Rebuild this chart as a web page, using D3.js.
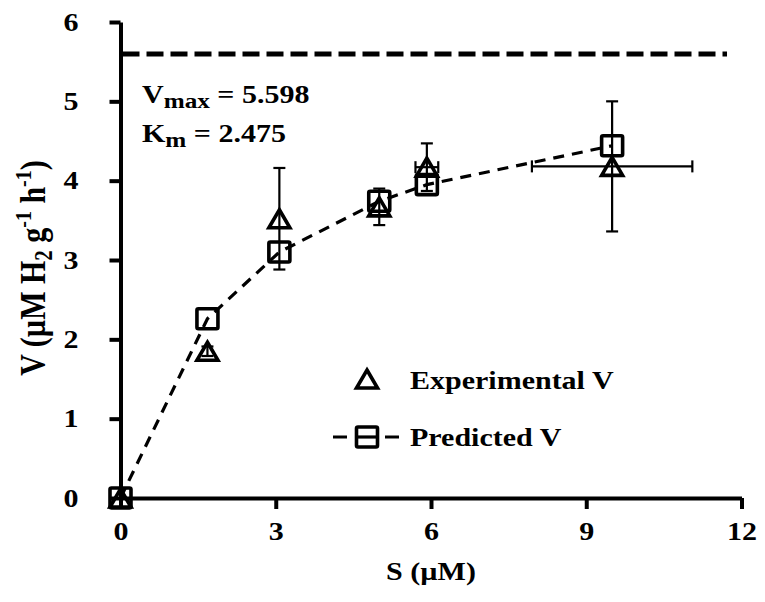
<!DOCTYPE html>
<html>
<head>
<meta charset="utf-8">
<script src="https://cdn.jsdelivr.net/npm/d3@7"></script>
<style>
  html, body { margin: 0; padding: 0; background: #fff; }
  svg text { font-family: "Liberation Serif", "Times New Roman", serif; font-weight: bold; fill: #000; }
</style>
</head>
<body>
<svg id="chart" width="765" height="602"></svg>
<script>
// Substrate concentration S (µM) and reaction rates V (µM H2 g-1 h-1)
const substrate = [0, 1.68, 3.07, 5.0, 5.92, 9.5];
const substrateErr = [0, 0, 0, 0, 0.22, 1.55];
const experimentalV = [0, 1.85, 3.52, 3.67, 4.17, 4.18];
const experimentalErr = [0, 0.06, 0.64, 0.23, 0.30, 0.82];
const predictedV = [0, 2.26, 3.10, 3.74, 3.95, 4.44];
const vmax = 5.598;
const km = 2.475;
const xTicks = [0, 3, 6, 9, 12];
const yTicks = [0, 1, 2, 3, 4, 5, 6];
const vmaxLineEnd = 11.72;

const svg = d3.select("#chart");
const plotLeft = 120.5, plotRight = 741.5, plotTop = 22, plotBottom = 498;
const WIDE = 1.2;   // horizontal widening of the lettering
const FONT = 25;

const x = d3.scaleLinear().domain([0, 12]).range([plotLeft, plotRight]);
const y = d3.scaleLinear().domain([0, 6]).range([plotBottom, plotTop]);

// Text placed at (px, py) and widened horizontally
function label(px, py, size, anchor) {
  return svg.append("text")
    .attr("transform", `translate(${px},${py}) scale(${WIDE},1)`)
    .attr("text-anchor", anchor || "start")
    .attr("font-size", size);
}

// Axes
const xAxis = svg.append("g")
  .attr("transform", `translate(0,${plotBottom})`)
  .call(d3.axisBottom(x).tickValues(xTicks).tickFormat(d3.format("d"))
    .tickSize(11).tickSizeOuter(0).tickPadding(13));
const yAxis = svg.append("g")
  .attr("transform", `translate(${plotLeft},0)`)
  .call(d3.axisLeft(y).tickValues(yTicks).tickFormat(d3.format("d"))
    .tickSize(11).tickSizeOuter(0).tickPadding(31));

[xAxis, yAxis].forEach(g => {
  g.select(".domain").attr("stroke", "#000").attr("stroke-width", 4);
  g.selectAll(".tick line").attr("stroke", "#000").attr("stroke-width", 4);
  g.selectAll(".tick text")
    .attr("font-size", FONT)
    .attr("font-family", "Liberation Serif, Times New Roman, serif")
    .attr("font-weight", "bold")
    .attr("fill", "#000")
    .attr("transform", `scale(${WIDE},1)`);
});
yAxis.selectAll(".tick text").attr("x", -42 / WIDE);

// Axis titles
label((plotLeft + plotRight) / 2, 580, FONT, "middle").text("S (µM)");

const yTitle = svg.append("text")
  .attr("transform", `translate(45,268) rotate(-90) scale(1,${WIDE})`)
  .attr("text-anchor", "middle")
  .attr("font-size", 30);
yTitle.append("tspan").text("V (µM H");
yTitle.append("tspan").attr("font-size", 21).attr("dy", 6).text("2");
yTitle.append("tspan").attr("dy", -6).text(" g");
yTitle.append("tspan").attr("font-size", 20).attr("dy", -12).text("-1");
yTitle.append("tspan").attr("dy", 12).text(" h");
yTitle.append("tspan").attr("font-size", 20).attr("dy", -12).text("-1");
yTitle.append("tspan").attr("dy", 12).text(")");

// Vmax asymptote
svg.append("line")
  .attr("x1", x(0) + 2).attr("x2", x(vmaxLineEnd))
  .attr("y1", y(vmax)).attr("y2", y(vmax))
  .attr("stroke", "#000").attr("stroke-width", 5)
  .attr("stroke-dasharray", "17,7");

// Kinetic parameters
const vLabel = label(142, 103, FONT);
vLabel.append("tspan").text("V");
vLabel.append("tspan").attr("font-size", 21).attr("dy", 5).text("max");
vLabel.append("tspan").attr("dy", -5).text(" = " + vmax.toFixed(3));
const kLabel = label(142, 142, FONT);
kLabel.append("tspan").text("K");
kLabel.append("tspan").attr("font-size", 21).attr("dy", 5).text("m");
kLabel.append("tspan").attr("dy", -5).text(" = " + km.toFixed(3));

const rows = substrate.map((s, i) => ({
  s, sErr: substrateErr[i], v: experimentalV[i], vErr: experimentalErr[i], p: predictedV[i]
}));

// Error bars on the experimental rates
const cap = 6;
const eb = svg.append("g").attr("stroke", "#000").attr("stroke-width", 2.2).attr("fill", "none");
rows.filter(d => d.vErr > 0).forEach(d => {
  eb.append("line").attr("x1", x(d.s)).attr("x2", x(d.s)).attr("y1", y(d.v - d.vErr)).attr("y2", y(d.v + d.vErr));
  eb.append("line").attr("x1", x(d.s) - cap).attr("x2", x(d.s) + cap).attr("y1", y(d.v + d.vErr)).attr("y2", y(d.v + d.vErr));
  eb.append("line").attr("x1", x(d.s) - cap).attr("x2", x(d.s) + cap).attr("y1", y(d.v - d.vErr)).attr("y2", y(d.v - d.vErr));
});
rows.filter(d => d.sErr > 0).forEach(d => {
  eb.append("line").attr("x1", x(d.s - d.sErr)).attr("x2", x(d.s + d.sErr)).attr("y1", y(d.v)).attr("y2", y(d.v));
  eb.append("line").attr("x1", x(d.s - d.sErr)).attr("x2", x(d.s - d.sErr)).attr("y1", y(d.v) - cap).attr("y2", y(d.v) + cap);
  eb.append("line").attr("x1", x(d.s + d.sErr)).attr("x2", x(d.s + d.sErr)).attr("y1", y(d.v) - cap).attr("y2", y(d.v) + cap);
});

// Predicted curve
svg.append("path")
  .datum(rows)
  .attr("d", d3.line().x(d => x(d.s)).y(d => y(d.p)))
  .attr("fill", "none").attr("stroke", "#000").attr("stroke-width", 3.2)
  .attr("stroke-dasharray", "11,8");

// Marker shapes
const triW = 21, triH = 18, sqW = 21, sqH = 20;
const triPath = `M0,${-triH / 2}L${triW / 2},${triH / 2}L${-triW / 2},${triH / 2}Z`;

svg.append("g").selectAll("rect").data(rows).join("rect")
  .attr("x", d => x(d.s) - sqW / 2).attr("y", d => y(d.p) - sqH / 2)
  .attr("width", sqW).attr("height", sqH).attr("rx", 1.5)
  .attr("fill", "none").attr("stroke", "#000").attr("stroke-width", 3.6);

svg.append("g").selectAll("path").data(rows).join("path")
  .attr("d", triPath)
  .attr("transform", d => `translate(${x(d.s)},${y(d.v)})`)
  .attr("fill", "none").attr("stroke", "#000").attr("stroke-width", 3.6)
  .attr("stroke-linejoin", "miter");

// Legend
const legend = svg.append("g");
legend.append("path").attr("d", triPath).attr("transform", "translate(367,379)")
  .attr("fill", "none").attr("stroke", "#000").attr("stroke-width", 3.6);
label(410, 389, FONT).text("Experimental V");
legend.append("line").attr("x1", 333).attr("x2", 400).attr("y1", 437).attr("y2", 437)
  .attr("stroke", "#000").attr("stroke-width", 3.2).attr("stroke-dasharray", "14,38");
legend.append("rect").attr("x", 367 - sqW / 2).attr("y", 437 - sqH / 2).attr("width", sqW).attr("height", sqH)
  .attr("rx", 1.5).attr("fill", "#fff").attr("stroke", "#000").attr("stroke-width", 3.6);
legend.append("line").attr("x1", 367 - sqW / 2).attr("x2", 367 + sqW / 2).attr("y1", 437).attr("y2", 437)
  .attr("stroke", "#000").attr("stroke-width", 3.2);
label(410, 446, FONT).text("Predicted V");
</script>
</body>
</html>
